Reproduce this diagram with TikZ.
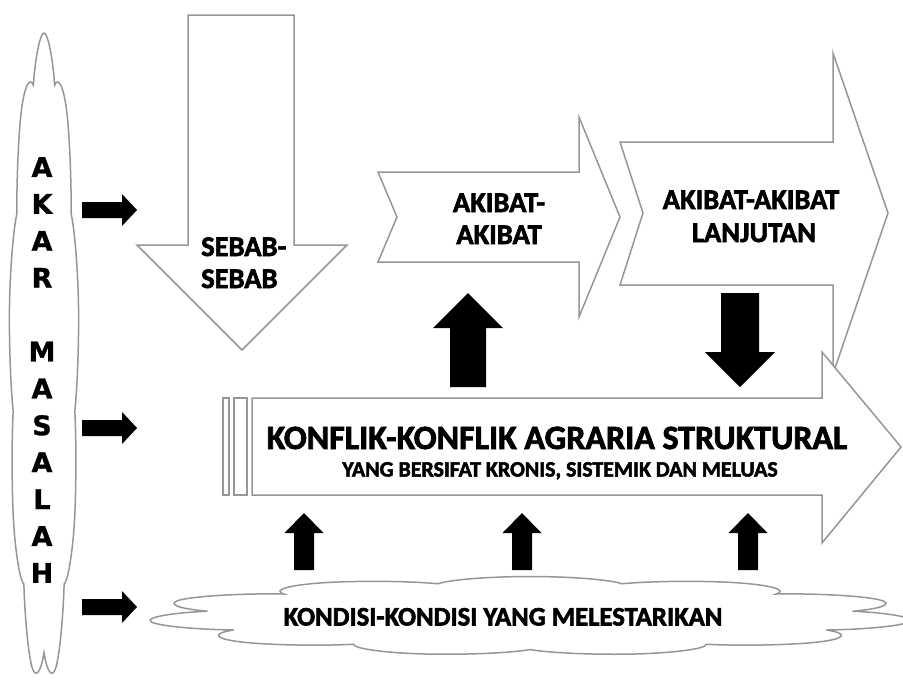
\documentclass[tikz,border=0pt]{standalone}
\usepackage{fontspec}
\setmainfont{Carlito}[BoldFeatures={FakeBold=2.2}]
\newfontfamily\akarfont{DejaVu Sans}[BoldFeatures={FakeBold=1}]
\usetikzlibrary{shapes.symbols}
\definecolor{edgegray}{RGB}{150,150,150}
\tikzset{
  blockarrow/.style={draw=edgegray, line width=1.5pt, fill=white, line join=miter},
  solidarrow/.style={fill=black, draw=none},
  cloudshape/.style={cloud, aspect=1, draw=edgegray, line width=1.5pt, fill=white,
     minimum width=100pt, minimum height=100pt, inner sep=0pt},
  lbl/.style={inner sep=0pt, anchor=base},
  midfont/.style={font=\bfseries\fontsize{28.5}{30}\selectfont},
}
\begin{document}
\begin{tikzpicture}[x=1pt,y=-1pt]
\useasboundingbox (0,0) rectangle (903,689);
% AKAR MASALAH cloud
\begin{scope}[shift={(44,360)}, xscale=0.7, yscale=6.54, transform shape]
  \node[cloudshape, cloud puffs=9, cloud puff arc=110] (akarcloud) at (0,0) {};
\end{scope}
\node[inner sep=0pt, align=center, font=\akarfont\bfseries\fontsize{27}{36.9}\selectfont] (akar) at (42,370)
  {A\\K\\A\\R\\\mbox{}\\M\\A\\S\\A\\L\\A\\H};
% SEBAB-SEBAB
\draw[blockarrow] (188,15) -- (294,15) -- (294,245) -- (347,245) -- (242,350) -- (137,245) -- (188,245) -- cycle;
% AKIBAT-AKIBAT
\draw[blockarrow] (378,172) -- (579,172) -- (579,117) -- (620,217) -- (579,317) -- (579,262) -- (378,262) -- (397,217) -- cycle;
% AKIBAT-AKIBAT LANJUTAN
\draw[blockarrow] (620,142) -- (833,142) -- (833,53) -- (888,213) -- (833,374) -- (833,285) -- (620,285) -- (643,213) -- cycle;
% KONFLIK
\draw[blockarrow] (223,398) rectangle (229,495);
\draw[blockarrow] (234,398) rectangle (247,495);
\draw[blockarrow] (252,398) -- (822,398) -- (822,352) -- (901,447) -- (822,543) -- (822,495) -- (252,495) -- cycle;
% bottom cloud
\begin{scope}[shift={(530,616)}, xscale=7.66, yscale=0.79, transform shape]
  \node[cloudshape, cloud puffs=11] (kondisicloud) at (0,0) {};
\end{scope}
% black arrows from AKAR
\foreach \yy in {210,428,607}{
  \fill[solidarrow] (82,\yy-8) -- (122,\yy-8) -- (122,\yy-16) -- (137,\yy) -- (122,\yy+16) -- (122,\yy+8) -- (82,\yy+8) -- cycle;
}
% up arrow to AKIBAT
\fill[solidarrow] (450,387) -- (450,328) -- (433,328) -- (468,293) -- (503,328) -- (486,328) -- (486,387) -- cycle;
% down arrow from LANJUTAN
\fill[solidarrow] (721,293) -- (759,293) -- (759,352) -- (775,352) -- (740,387) -- (705,352) -- (721,352) -- cycle;
% small up arrows from KONDISI
\foreach \xx in {304,522,748}{
  \fill[solidarrow] (\xx-10,570) -- (\xx-10,533) -- (\xx-19.5,533) -- (\xx,513) -- (\xx+19.5,533) -- (\xx+10,533) -- (\xx+10,570) -- cycle;
}
% labels
\node[lbl, anchor=base west, midfont] (sebab1) at (201,256) {SEBAB-};
\node[lbl, anchor=base west, midfont] (sebab2) at (201,288) {SEBAB};
\node[lbl, midfont] (akibat1) at (499,212) {AKIBAT-};
\node[lbl, midfont] (akibat2) at (499,244) {AKIBAT};
\node[lbl, midfont] (lanjut1) at (751,209) {AKIBAT-AKIBAT};
\node[lbl, midfont] (lanjut2) at (754,242) {LANJUTAN};
\node[lbl, font=\bfseries\fontsize{34}{36}\selectfont] (konflik) at (557,449) {KONFLIK-KONFLIK AGRARIA STRUKTURAL};
\node[lbl, font=\bfseries\fontsize{21.9}{24}\selectfont] (sifat) at (560,476.5) {YANG BERSIFAT KRONIS, SISTEMIK DAN MELUAS};
\node[lbl, font=\bfseries\fontsize{26.7}{28}\selectfont] (kondisi) at (503,625.5) {KONDISI-KONDISI YANG MELESTARIKAN};
\end{tikzpicture}
\end{document}
